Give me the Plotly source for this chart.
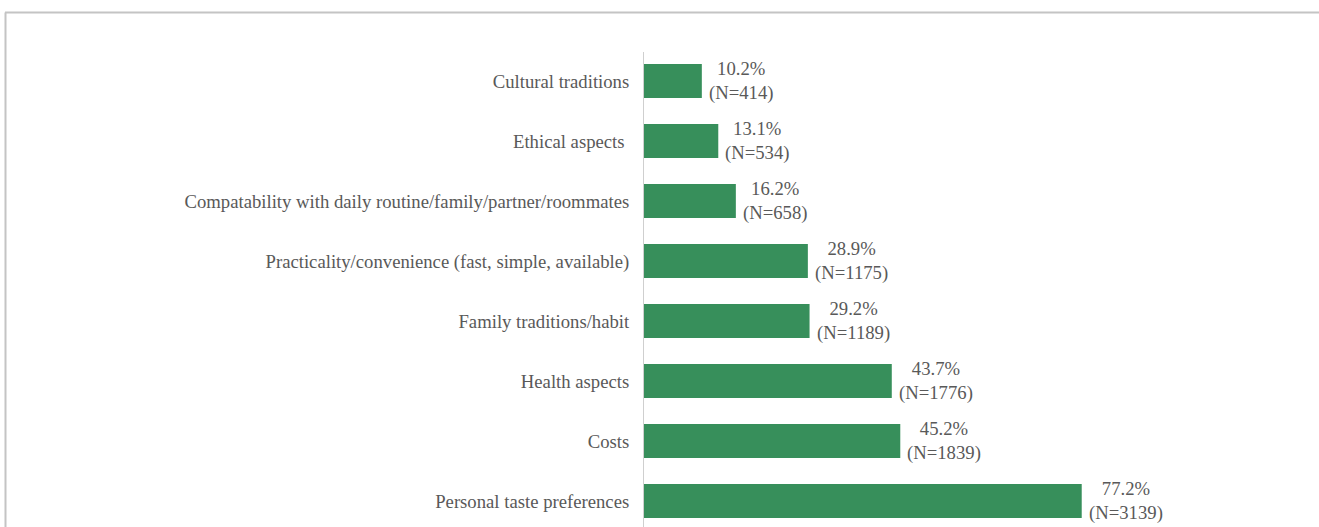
import plotly.graph_objects as go

# Reasons listed bottom-to-top (plotly draws the first category at the bottom)
reasons = [
    "Personal taste preferences",
    "Costs",
    "Health aspects",
    "Family traditions/habit",
    "Practicality/convenience (fast, simple, available)",
    "Compatability with daily routine/family/partner/roommates",
    "Ethical aspects\u00a0",
    "Cultural traditions",
]
percent = [77.2, 45.2, 43.7, 29.2, 28.9, 16.2, 13.1, 10.2]
counts = [3139, 1839, 1776, 1189, 1175, 658, 534, 414]

W, H = 1319, 527
ML, MR, MT, MB = 644, 108, 52, 0
plot_w = W - ML - MR
plot_h = H - MT - MB

BAR = "#378F5B"
TXT = "#595959"
FONT = "'Liberation Serif', 'Times New Roman', Times, serif"
SIZE = 18.7

fig = go.Figure(
    go.Bar(
        x=percent,
        y=reasons,
        orientation="h",
        marker=dict(color=BAR, line=dict(width=0)),
        width=0.57,
        hoverinfo="skip",
    )
)

# value labels to the right of each bar
for p, n, r in zip(percent, counts, reasons):
    fig.add_annotation(
        x=p, y=r, xref="x", yref="y",
        text=f"{p:.1f}%<br>(N={n})",
        showarrow=False, xanchor="left", yanchor="middle", align="center",
        xshift=5,
        font=dict(family=FONT, size=SIZE, color=TXT),
    )

def px_x(px):
    return (px - ML) / plot_w

def px_y(py):
    return (H - MB - py) / plot_h

# outer frame (top and left edges)
frame = dict(color="#C4C4C4", width=2)
fig.add_shape(type="line", xref="paper", yref="paper",
              x0=px_x(5), x1=px_x(1330), y0=px_y(12.5), y1=px_y(12.5), line=frame)
fig.add_shape(type="line", xref="paper", yref="paper",
              x0=px_x(5.5), x1=px_x(5.5), y0=px_y(12.5), y1=px_y(540), line=frame)

fig.update_layout(
    width=W, height=H,
    margin=dict(l=ML, r=MR, t=MT, b=MB, pad=0),
    paper_bgcolor="white", plot_bgcolor="white",
    showlegend=False,
    font=dict(family=FONT, size=SIZE, color=TXT),
    xaxis=dict(range=[0, 100], visible=False, fixedrange=True),
    yaxis=dict(
        type="category",
        range=[-0.433, 7.483],
        showline=True, linecolor="#CFCFCF", linewidth=1,
        showgrid=False, zeroline=False,
        ticks="", ticklabelstandoff=10,
        tickfont=dict(family=FONT, size=SIZE, color=TXT),
        fixedrange=True,
    ),
)

fig.write_html("out.html")
